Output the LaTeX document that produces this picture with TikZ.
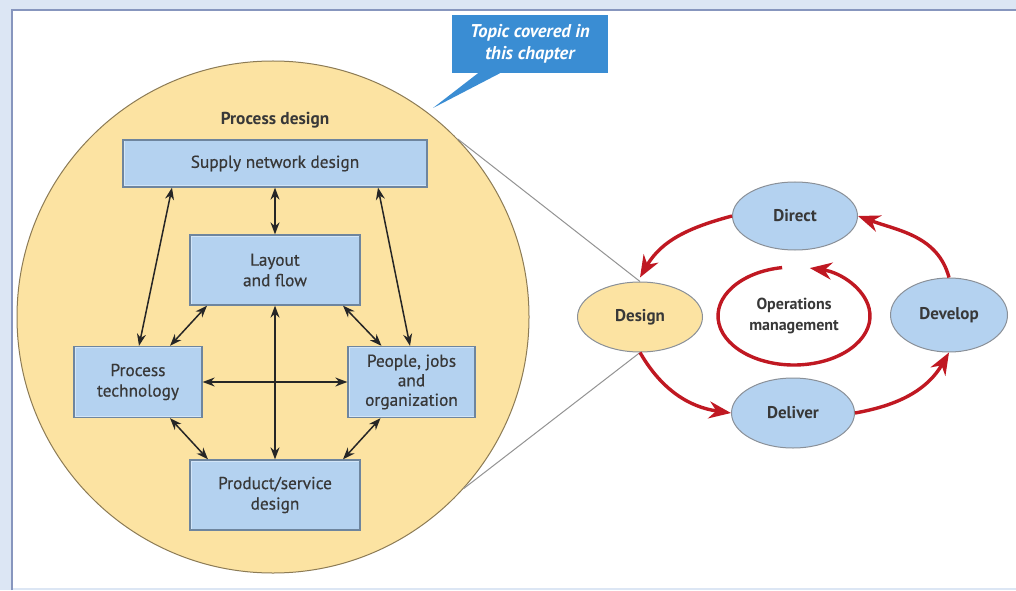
\documentclass[tikz,border=0pt]{standalone}
\usepackage{fontspec}
\setmainfont{PT Sans}
\newfontfamily\medfont{PT Sans}[FakeBold=0.5]
\usetikzlibrary{arrows.meta,calc,shapes.geometric}
\definecolor{yel}{HTML}{FCE3A2}
\definecolor{circedge}{HTML}{8C7B55}
\definecolor{boxfill}{HTML}{B4D2F0}
\definecolor{boxedge}{HTML}{6E859E}
\definecolor{boxlight}{HTML}{D2E5F8}
\definecolor{callout}{HTML}{3A8DD3}
\definecolor{redc}{HTML}{C01822}
\definecolor{textcol}{HTML}{383838}
\definecolor{framecol}{HTML}{8796BE}
\definecolor{framelight}{HTML}{DCE6F4}
\definecolor{ellgray}{HTML}{8A9098}
\tikzset{
  txt/.style={text=textcol, font=\medfont\fontsize{17.3}{20.5}\selectfont, align=center},
  btxt/.style={text=textcol, font=\fontsize{17}{20}\selectfont\bfseries, align=center},
  bluebox/.style={txt, rectangle, fill=boxfill, draw=boxedge, line width=1.3pt, inner sep=0pt,
    path picture={\draw[boxlight, line width=3pt] (path picture bounding box.south west) rectangle (path picture bounding box.north east);}},
  dbl/.style={{Stealth[length=12pt,width=9pt]}-{Stealth[length=12pt,width=9pt]}, line width=1.5pt, black!85},
  ell/.style={btxt, ellipse, draw=ellgray, line width=1pt, inner sep=0pt},
  redarr/.style={-{Stealth[length=22pt,width=17pt]}, line width=3.4pt, redc},
  zoomline/.style={draw=gray!85, line width=1pt}
}
\begin{document}
\begin{tikzpicture}[x=1pt,y=1pt]
\useasboundingbox (0,0) rectangle (1016,590);
\fill[white] (0,0) rectangle (1016,590);
\fill[framelight] (0,580) rectangle (1016,590);
\fill[framelight] (0,0) rectangle (11,590);
\draw[framelight, line width=2pt] (12,1.5) -- (1016,1.5);
\draw[framecol, line width=2pt] (12,0) -- (12,580) -- (1016,580);

% big circle
\node[circle, minimum size=512pt, inner sep=0pt, fill=yel, draw=circedge, line width=1pt] (bigc) at (273,273) {};

% callout
\node[rectangle, fill=callout, minimum width=156pt, minimum height=58pt, inner sep=0pt,
      text=white, font=\fontsize{18.5}{22}\selectfont\bfseries\itshape, align=center] (call) at (530,546)
      {Topic covered in\\this chapter};
\coordinate (tailtip) at (433,482);
\fill[callout] ([xshift=-52]call.south) -- (tailtip) -- ([xshift=-30]call.south) -- cycle;

% zoom lines
\node[ell, fill=yel, minimum width=125pt, minimum height=70pt] (design) at (640,273) {Design};
\draw[zoomline] (bigc.44) -- (design.north);
\draw[zoomline] (bigc.-42) -- (design.south);

% process design
\node[btxt, font=\fontsize{17.3}{20}\selectfont\bfseries] (pdl) at (275,470) {Process design};
\node[bluebox, minimum width=304pt, minimum height=47pt] (sup) at (275,426.5) {Supply network design};
\node[bluebox, minimum width=170pt, minimum height=70pt] (lay) at (275,320) {Layout\\and flow};
\node[bluebox, minimum width=128pt, minimum height=71pt] (pt) at (138,208) {Process\\technology};
\node[bluebox, minimum width=127pt, minimum height=71pt, font=\medfont\fontsize{17.3}{19.5}\selectfont] (pjo) at (411.5,208) {People, jobs\\and\\organization};
\node[bluebox, minimum width=170pt, minimum height=70pt] (pro) at (275,95) {Product/service\\design};

\draw[dbl] (sup.south) -- (lay.north);
\draw[dbl] ([xshift=-103]sup.south) -- ([xshift=1]pt.north);
\draw[dbl] ([xshift=103]sup.south) -- ([xshift=-1.5]pjo.north);
\draw[dbl] ([xshift=-68]lay.south) -- ([xshift=32]pt.north);
\draw[dbl] ([xshift=68]lay.south) -- ([xshift=-30]pjo.north);
\draw[dbl] (lay.south) -- (pro.north);
\draw[dbl] (pt.east) -- (pjo.west);
\draw[dbl] ([xshift=32]pt.south) -- ([xshift=-67]pro.north);
\draw[dbl] ([xshift=-31]pjo.south) -- ([xshift=68]pro.north);

% operations cycle
\node[ell, fill=boxfill, minimum width=125pt, minimum height=68pt] (direct) at (795,374) {Direct};
\node[ell, fill=boxfill, minimum width=117pt, minimum height=74pt] (develop) at (949,275) {Develop};
\node[ell, fill=boxfill, minimum width=123pt, minimum height=70pt] (deliver) at (793,177) {Deliver};
\node[btxt, font=\fontsize{16}{21}\selectfont\bfseries] (ops) at (794,274) {Operations\\management};
\coordinate (opsc) at (794,274);

\draw[redarr] (direct.west) to[out=195, in=60] ([yshift=4]design.north);
\draw[redarr] (design.south) to[out=-60, in=172] (deliver.west);
\draw[redarr] (deliver.east) to[out=10, in=-120] (develop.south);
\draw[redarr] (develop.north) to[out=105, in=-20] (direct.east);
\draw[redarr] ($(opsc)+(99:76 and 49)$) arc[start angle=99, end angle=438, x radius=76, y radius=49];
\end{tikzpicture}
\end{document}
